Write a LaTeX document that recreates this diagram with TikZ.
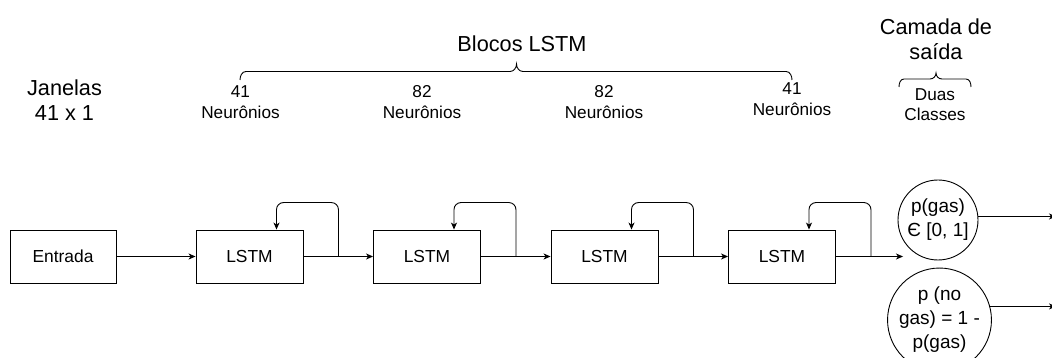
\documentclass[tikz,border=0pt]{standalone}
\usepackage{fontspec}
\setmainfont{Liberation Sans}
\usetikzlibrary{arrows.meta}
\begin{document}
\begin{tikzpicture}[x=1pt,y=-1pt,
  line width=0.9pt,
  arr/.style={-{Stealth[length=7pt,width=6pt,inset=2pt]}},
  block/.style={draw, minimum width=107pt, minimum height=53pt, inner sep=0pt,
    font=\fontsize{17.4}{21}\selectfont},
  unit/.style={draw, circle, inner sep=0pt, align=center,
    font=\fontsize{19}{24}\selectfont},
  title/.style={align=center, inner sep=0pt, font=\fontsize{21.7}{25.5}\selectfont},
  note/.style={align=center, inner sep=0pt, font=\fontsize{17.2}{21}\selectfont},
  loop/.style={arr, rounded corners=7pt}
]
\useasboundingbox (0,0) rectangle (1052,358);

% headings
\node[title] (win) at (64.5,100) {Janelas\\41 x 1};
\node[title, anchor=base] (blk) at (522,52) {Blocos LSTM};
\node[title] (outl) at (936,39) {Camada de\\saída};

% neuron counts per block
\node[note] (n1) at (240.5,102) {41\\Neurônios};
\node[note] (n2) at (422,102) {82\\Neurônios};
\node[note] (n3) at (604,102) {82\\Neurônios};
\node[note] (n4) at (792,99.5) {41\\Neurônios};
\node[note, font=\fontsize{17.2}{20}\selectfont] (cls) at (935,105) {Duas\\Classes};

% braces
\draw (240,80) to[out=90,in=180] (246,71.5) -- (510,71.5)
  to[out=0,in=-90] (516.5,64) to[out=-90,in=180] (523,71.5) -- (786,71.5)
  to[out=0,in=90] (792,80);
\draw (899,87) to[out=90,in=180] (904,79) -- (930,79)
  to[out=0,in=-90] (936,73) to[out=-90,in=180] (942,79) -- (966,79)
  to[out=0,in=90] (971,87);

% network
\node[block, minimum width=106pt] (in) at (63,256.5) {Entrada};
\node[block] (l1) at (249.5,256.5) {LSTM};
\node[block] (l2) at (427,256.5) {LSTM};
\node[block] (l3) at (604.5,256.5) {LSTM};
\node[block] (l4) at (782,256.5) {LSTM};

\node[unit, minimum size=80pt] (c1) at (938,220) {p(gas)\\Є [0, 1]};
\node[unit, minimum size=95pt] (c2) at (939.5,320) {p (no\\gas) = 1 -\\p(gas)};

\coordinate (o4) at (903,256.5);
\coordinate (edge) at (1056,0);

\draw[arr] (in) -- (l1);
\draw[arr] (l1) -- (l2);
\draw[arr] (l2) -- (l3);
\draw[arr] (l3) -- (l4);
\draw[arr] (l4) -- (o4);

% recurrent connections
\foreach \b in {l1,l2,l3,l4}{
  \coordinate (t\b) at ([xshift=35pt]\b.east);
  \draw[loop] (t\b) |- ([xshift=27pt,yshift=27pt]\b.north) -- ([xshift=27pt]\b.north);
}

\draw[arr] (c1.5) -- (c1.5 -| edge);
\draw[arr] (c2.15) -- (c2.15 -| edge);
\end{tikzpicture}
\end{document}
